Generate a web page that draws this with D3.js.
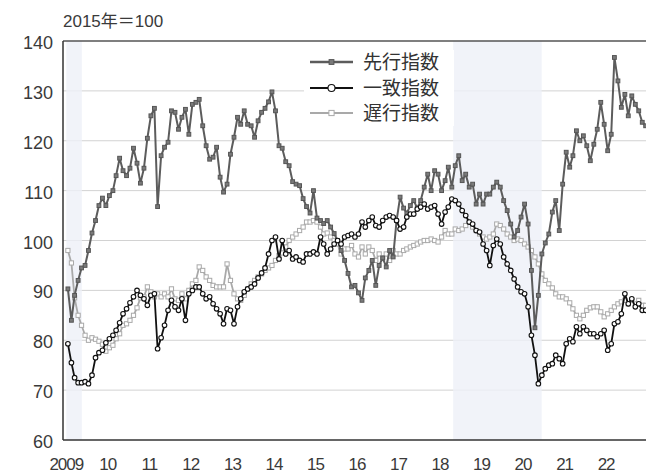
<!DOCTYPE html>
<html lang="ja">
<head>
  <meta charset="UTF-8" />
  <title>景気動向指数</title>
  <script src="https://d3js.org/d3.v7.min.js"></script>
  <style>
    body {
      margin: 0;
      background: #fff;
    }

    svg {
      display: block;
      font-family: "Liberation Sans", Arial, "Noto Sans CJK JP", sans-serif;
    }

    .grid line {
      stroke: #d2d2d2;
      stroke-width: 1;
    }

    .ylab, .xlab {
      fill: #3a3a3a;
    }
  </style>
</head>

<body>
  <svg id="chart" width="646" height="473"></svg>

  <script>
    // monthly values, Jan 2009 - Dec 2022 (2015 = 100)
    const startYear = 2009;

    const leading = [
      90.3, 84, 89, 92, 94.5, 95, 98, 101.5, 104, 107, 108.5, 107,
      109, 110, 113, 116.5, 114, 113, 114.5, 118.5, 115.5, 111.5, 114.5, 120.5,
      125, 126.5, 106.8, 117, 118.7, 119.7, 126, 125.7, 122.3, 124.7, 126.3, 121.3,
      127.3, 127.7, 128.3, 123, 119, 116.3, 116.7, 118.7, 112.7, 109.7, 111.3, 117.3,
      120.7, 124.7, 123.3, 126, 123.3, 123, 120.7, 124, 125.7, 126.5, 127.8, 129.8,
      126, 119, 118.5, 115.8, 115, 111.8, 111.3, 111, 108.4, 106.8, 105.5, 110,
      104.5, 104, 103.4, 104, 102.7, 101.4, 100, 98, 96, 93.4, 90.7, 91,
      89.5, 88, 92.5, 94, 96, 91, 95, 96.5, 94.7, 98, 96.7, 104,
      108.7, 106.5, 105.5, 107, 108, 106.5, 108, 110.7, 113.3, 110, 114, 113.3,
      110, 112, 114.7, 110.7, 115, 117, 112, 113.3, 110.7, 111.3, 107.3, 109.3,
      107.3, 109.3, 109.3, 110.7, 111.7, 110.7, 108, 106, 103.3, 100.7, 102, 104.7,
      107.3, 103.3, 94, 82.5, 89, 97.3, 99.5, 101.3, 105.7, 108, 102, 111.3,
      117.7, 114.7, 117, 122, 120, 121, 119, 116, 119.3, 122.3, 127.7, 123.3,
      118, 121.3, 136.7, 132, 126.7, 129.3, 125, 129, 127.3, 126, 123.7, 123
    ];

    const coincident = [
      79.3, 75.5, 72.5, 71.5, 71.5, 71.7, 71.3, 73, 76.5, 77.5, 78, 79.5,
      80.3, 81, 82, 83.5, 85.3, 86.3, 87.5, 88.7, 90, 89, 88.3, 87,
      89, 89.3, 78.3, 80.5, 83, 86, 88, 86.7, 86, 88.3, 84, 89.3,
      90, 90.7, 90.7, 89.3, 88.3, 88.7, 87.3, 86.3, 85.3, 83.3, 86.3, 86,
      83.3, 86.7, 88.3, 89.7, 90.3, 90.7, 91.3, 92.5, 93.5, 94.5, 97.3, 100,
      100.7, 96.3, 100, 97.3, 98, 96.3, 96.7, 96, 95.7, 97.3, 97.3, 97.7,
      97.3, 100.7, 99.3, 97.3, 98.3, 99.3, 100, 99.3, 100.7, 101, 101.3, 100.7,
      101.3, 103.7, 102.7, 104, 104.7, 103, 102.7, 104, 104.7, 105, 104.7, 104,
      102.3, 102.7, 104.7, 105.3, 105.3, 106.3, 106.7, 107.3, 106.3, 106.7, 107, 105.3,
      103.3, 105.7, 106.7, 108.3, 108, 107.3, 106, 105, 103.7, 103.3, 102, 101.7,
      99.3, 98, 95, 99, 100.3, 99.3, 96.7, 95.3, 94, 92.3, 90.7, 89.7,
      89.3, 86.7, 81, 77, 71.3, 73, 74.3, 75, 75.3, 77, 76.3, 75.3,
      79.3, 80.3, 79.7, 82.7, 81.3, 82.7, 82, 81.3, 81.3, 80.7, 81.3, 82,
      78, 79.3, 83.3, 83.7, 85.3, 89.3, 87.3, 88.3, 86.7, 87.3, 86, 86
    ];

    const lagging = [
      98, 95.5, 88.5, 85, 83, 81, 80, 80.5, 80.2, 79.8, 79.2, 77.8,
      78.5, 79, 80.3, 81.3, 83, 83.3, 84, 85, 86.5, 88.5, 88.7, 90.7,
      89.7, 88.7, 89.3, 88.7, 89.3, 88.7, 90.3, 88.3, 88, 89.3, 88.3, 90,
      91.3, 92, 94.7, 94, 92.7, 92, 91, 90.7, 90.7, 90.7, 95.3, 92,
      89.3, 88.3, 88, 89, 90.3, 91.3, 92, 92.7, 93.3, 94, 94.5, 95,
      96, 97, 97.5, 98.7, 100, 100.7, 101.3, 102, 102.7, 103.7, 103.7, 104,
      103.7, 102.7, 101.3, 101.5, 100.7, 100, 99.3, 97.3, 98.3, 98.3, 99, 97.3,
      96.7, 98.7, 97.3, 98.7, 98, 96, 97.3, 96.5, 97.3, 96, 98, 97.3,
      97.3, 98, 98.3, 98.7, 99, 99.3, 99.7, 100, 100, 100.3, 100, 99.7,
      100.7, 102, 101.3, 101.3, 102.3, 102, 102.3, 103, 103.7, 102.7, 102, 101.3,
      100.7, 100.3, 100.7, 101.3, 103.3, 103, 102.3, 101.3, 100.7, 100, 100.3, 100,
      99.3, 98.7, 98, 96.7, 95.3, 93.3, 92, 91.3, 90.5, 89.3, 88.7, 88.7,
      88.3, 87.5, 86.3, 85, 84.3, 85, 86, 86.5, 86.7, 86.7, 85.7, 84.7,
      85.3, 86, 86.7, 87.3, 87.7, 88, 87.3, 88, 87.3, 88, 87, 87
    ];

    const yTicks = [60, 70, 80, 90, 100, 110, 120, 130, 140];
    const xTickYears = [2009, 2010, 2011, 2012, 2013, 2014, 2015, 2016, 2017, 2018, 2019, 2020, 2021, 2022];
    const xTickLabels = ["2009", "10", "11", "12", "13", "14", "15", "16", "17", "18", "19", "20", "21", "22"];
    // shaded periods [start, end] as [year, month(1-12)]
    const bands = [
      [[2009, 1], [2009, 5.5]],
      [[2018, 4.8], [2020, 6.4]]
    ];
    const legendLabels = ["先行指数", "一致指数", "遅行指数"];
    const unitLabel = "2015年＝100";

    const svg = d3.select("#chart");
    const W = 646, H = 473;
    const plotLeft = 63, plotTop = 41, plotBottom = 440;

    const x = d3.scaleTime()
      .domain([new Date(2009, 0, 1), new Date(2023, 0, 1)])
      .range([66.3, 647.6]);
    const y = d3.scaleLinear().domain([60, 140]).range([plotBottom, plotTop]);

    const monthDate = i => new Date(startYear + Math.floor(i / 12), i % 12, 15);
    const ymDate = ([yr, m]) => new Date(yr, 0, 1).getTime() + (m - 1) / 12 * 365.25 * 864e5;

    // gridlines
    svg.append("g").attr("class", "grid")
      .selectAll("line")
      .data(yTicks.filter(v => v > 60 && v < 140))
      .join("line")
      .attr("x1", plotLeft).attr("x2", W)
      .attr("y1", d => y(d)).attr("y2", d => y(d));

    // shaded bands
    svg.append("g")
      .selectAll("rect")
      .data(bands)
      .join("rect")
      .attr("x", d => Math.max(plotLeft, x(ymDate(d[0]))))
      .attr("width", d => x(ymDate(d[1])) - Math.max(plotLeft, x(ymDate(d[0]))))
      .attr("y", plotTop)
      .attr("height", plotBottom - plotTop)
      .attr("fill", "#eef0f7")
      .attr("opacity", 0.8);

    // legend box (white, hides gridline behind)
    const legX = 308, legY = 50;
    svg.append("rect")
      .attr("x", legX - 4).attr("y", legY)
      .attr("width", 150).attr("height", 76)
      .attr("fill", "#fff");

    // frame: top line, left axis, bottom axis
    svg.append("line").attr("x1", plotLeft).attr("x2", W)
      .attr("y1", y(140)).attr("y2", y(140))
      .attr("stroke", "#555").attr("stroke-width", 1.3);
    svg.append("line").attr("x1", plotLeft).attr("x2", plotLeft)
      .attr("y1", y(140)).attr("y2", y(60))
      .attr("stroke", "#333").attr("stroke-width", 1.5);
    svg.append("line").attr("x1", plotLeft).attr("x2", W)
      .attr("y1", y(60)).attr("y2", y(60))
      .attr("stroke", "#333").attr("stroke-width", 1.5);

    // y labels
    svg.append("g")
      .selectAll("text")
      .data(yTicks)
      .join("text")
      .attr("class", "ylab")
      .attr("x", 53)
      .attr("y", d => y(d) + 8)
      .attr("text-anchor", "end")
      .attr("font-size", 18)
      .text(d => d);

    // x labels
    svg.append("g")
      .selectAll("text")
      .data(xTickYears)
      .join("text")
      .attr("class", "xlab")
      .attr("x", d => x(new Date(d, 0, 1)))
      .attr("y", 470)
      .attr("text-anchor", "middle")
      .attr("font-size", 17)
      .attr("letter-spacing", "-1")
      .text((d, i) => xTickLabels[i]);

    svg.append("text")
      .attr("x", 63).attr("y", 27)
      .attr("font-size", 17)
      .attr("fill", "#3a3a3a")
      .text(unitLabel);

    const series = [
      { name: legendLabels[2], values: lagging, line: "#a9a9a9", width: 1.8, marker: "square", fill: "#fff", stroke: "#a9a9a9", size: 4.2 },
      { name: legendLabels[0], values: leading, line: "#5c5c5c", width: 2, marker: "square", fill: "#7a7a7a", stroke: "#555", size: 3.8 },
      { name: legendLabels[1], values: coincident, line: "#111", width: 1.8, marker: "circle", fill: "#fff", stroke: "#111", size: 2.3 }
    ];

    const line = d3.line()
      .x((d, i) => x(monthDate(i)))
      .y(d => y(d));

    function drawMarkers(g, s, pts) {
      if (s.marker === "square") {
        g.selectAll("rect")
          .data(pts)
          .join("rect")
          .attr("x", d => d[0] - s.size / 2)
          .attr("y", d => d[1] - s.size / 2)
          .attr("width", s.size).attr("height", s.size)
          .attr("fill", s.fill).attr("stroke", s.stroke).attr("stroke-width", 1);
      } else {
        g.selectAll("circle")
          .data(pts)
          .join("circle")
          .attr("cx", d => d[0]).attr("cy", d => d[1])
          .attr("r", s.size)
          .attr("fill", s.fill).attr("stroke", s.stroke).attr("stroke-width", 1.1);
      }
    }

    series.forEach(s => {
      const g = svg.append("g");
      g.append("path")
        .attr("d", line(s.values))
        .attr("fill", "none")
        .attr("stroke", s.line)
        .attr("stroke-width", s.width)
        .attr("stroke-linejoin", "round");
      const pts = s.values.map((v, i) => [x(monthDate(i)), y(v)]);
      drawMarkers(g, s, pts);
    });

    // legend
    const legendOrder = [series[1], series[2], series[0]];
    const legRows = [62, 88, 113];
    legendOrder.forEach((s, i) => {
      const g = svg.append("g").attr("transform", `translate(${legX},${legRows[i]})`);
      g.append("line")
        .attr("x1", 2).attr("x2", 45)
        .attr("stroke", s.line).attr("stroke-width", s.width + 0.4);
      const mk = s.marker === "circle" ? { ...s, size: 3.5 } : { ...s, size: s.size + 1 };
      drawMarkers(g, mk, [[23.5, 0]]);
      g.append("text")
        .attr("x", 55).attr("y", 7)
        .attr("font-size", 19)
        .attr("font-family", "'Noto Sans CJK JP', sans-serif")
        .attr("fill", "#333")
        .text(s.name);
    });
  </script>
</body>
</html>
